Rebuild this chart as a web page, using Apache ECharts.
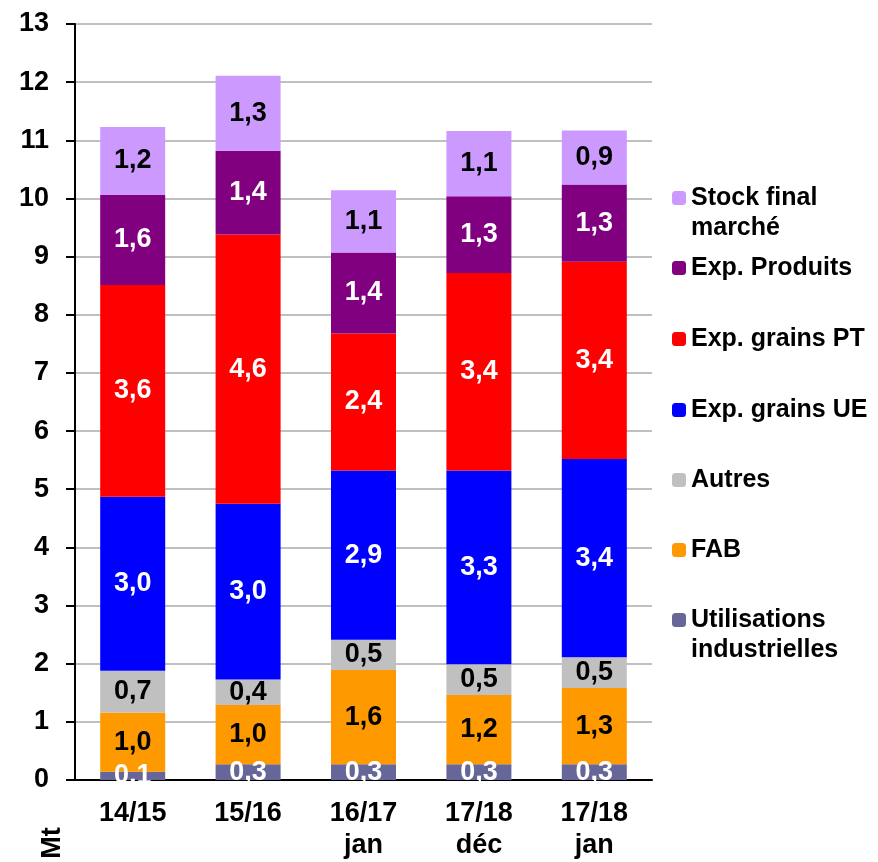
<!DOCTYPE html>
<html>
<head>
<meta charset="utf-8">
<script src="https://cdn.jsdelivr.net/npm/echarts@6/dist/echarts.min.js"></script>
<style>
  html, body { margin: 0; padding: 0; background: #fff; }
  #chart { width: 878px; height: 862px; }
</style>
</head>
<body>
<div id="chart"></div>
<script>
const campagnes = ['14/15', '15/16', '16/17\njan', '17/18\ndéc', '17/18\njan']

// Mt
const utilisations = [0.14, 0.27, 0.27, 0.27, 0.27]
const fab = [1.02, 1.02, 1.62, 1.19, 1.31]
const autres = [0.72, 0.44, 0.52, 0.53, 0.53]
const expUE = [2.99, 3.02, 2.91, 3.33, 3.41]
const expPT = [3.64, 4.63, 2.36, 3.40, 3.39]
const expProduits = [1.55, 1.44, 1.39, 1.32, 1.33]
const stockFinal = [1.17, 1.29, 1.07, 1.12, 0.93]

const FONT = '"Liberation Sans", Arial, sans-serif'

const fmt = (p) => p.value.toFixed(1).replace('.', ',')

function bar(name, data, color, labelColor) {
  return {
    name: name,
    type: 'bar',
    stack: 'total',
    barWidth: 65,
    data: data,
    itemStyle: { color: color },
    label: {
      show: true,
      position: 'inside',
      formatter: fmt,
      color: labelColor,
      fontFamily: FONT,
      fontWeight: 'bold',
      fontSize: 27
    }
  }
}

// one legend per entry so the spacing follows the original
const legendRows = [
  { name: 'Stock final\nmarché', y: 198 },
  { name: 'Exp. Produits', y: 268 },
  { name: 'Exp. grains PT', y: 339 },
  { name: 'Exp. grains UE', y: 410 },
  { name: 'Autres', y: 480 },
  { name: 'FAB', y: 550 },
  { name: 'Utilisations\nindustrielles', y: 620 }
]

const legends = legendRows.map((row) => {
  const twoLines = row.name.indexOf('\n') >= 0
  return {
    data: [row.name],
    left: 672,
    top: twoLines ? row.y - 45 : row.y - 15,
    padding: 0,
    itemWidth: 14,
    itemHeight: 14,
    itemGap: 0,
    selectedMode: false,
    // empty first line keeps the square level with the first text line
    formatter: (name) => (name.indexOf('\n') >= 0 ? '\n' + name : name),
    textStyle: {
      fontFamily: FONT,
      fontWeight: 'bold',
      fontSize: 25,
      color: '#000',
      lineHeight: 30
    }
  }
})

const chart = echarts.init(document.getElementById('chart'))
chart.setOption({
  animation: false,
  backgroundColor: '#fff',
  grid: { left: 75, right: 226, top: 24, bottom: 81 },
  legend: legends,
  xAxis: {
    type: 'category',
    data: campagnes,
    axisLine: { lineStyle: { color: '#000', width: 2 } },
    axisTick: { show: false },
    axisLabel: {
      margin: 18,
      fontFamily: FONT,
      fontWeight: 'bold',
      fontSize: 27,
      lineHeight: 32,
      color: '#000'
    }
  },
  yAxis: {
    type: 'value',
    min: 0,
    max: 13,
    interval: 1,
    axisLine: { show: true, lineStyle: { color: '#000', width: 2 } },
    axisTick: { show: true, length: 9, lineStyle: { color: '#000', width: 2 } },
    axisLabel: {
      margin: 26,
      fontFamily: FONT,
      fontWeight: 'bold',
      fontSize: 27,
      color: '#000'
    },
    splitLine: { lineStyle: { color: '#c0c0c0', width: 2 } }
  },
  graphic: [{
    type: 'text',
    x: 53,
    y: 843,
    rotation: Math.PI / 2,
    style: {
      text: 'Mt',
      fill: '#000',
      font: 'bold 27px ' + FONT,
      textAlign: 'center',
      textVerticalAlign: 'middle'
    }
  }],
  series: [
    bar('Utilisations\nindustrielles', utilisations, '#666699', '#fff'),
    bar('FAB', fab, '#ff9900', '#000'),
    bar('Autres', autres, '#c0c0c0', '#000'),
    bar('Exp. grains UE', expUE, '#0000ff', '#fff'),
    bar('Exp. grains PT', expPT, '#ff0000', '#fff'),
    bar('Exp. Produits', expProduits, '#800080', '#fff'),
    bar('Stock final\nmarché', stockFinal, '#cc99ff', '#000')
  ]
})
</script>
</body>
</html>
